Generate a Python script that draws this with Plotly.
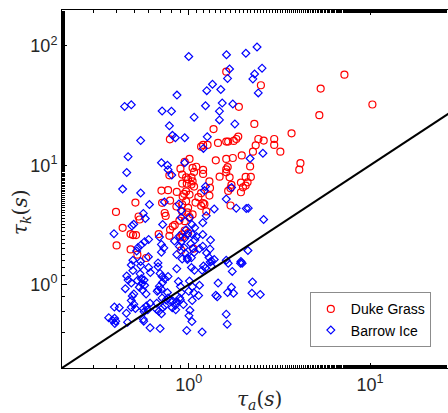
import math
import plotly.graph_objects as go

# ---------------- data ----------------
duke_tau_a = [7.22, 5.34, 10.3, 5.25, 3.69, 2.96, 2.96, 3.20, 4.13, 4.07,
              2.50, 1.61, 1.89, 2.30, 1.875, 1.83, 1.77, 1.65, 1.61, 2.42,
              2.59, 2.34, 2.26, 2.18, 1.96, 1.75, 1.61, 1.64, 1.61, 2.06,
              2.20, 2.11, 2.06, 1.94, 1.72, 1.70, 1.65, 1.70, 1.37, 1.45,
              1.27, 1.20, 1.17, 1.41, 1.01, 0.787, 0.950, 1.05, 1.10, 1.07,
              1.20, 1.20, 1.61, 1.48, 1.68, 1.94, 0.920, 0.967, 0.992, 1.035,
              1.05, 1.035, 1.07, 0.975, 0.920, 1.30, 1.31, 1.30, 1.17, 1.13,
              1.20, 1.17, 0.967, 0.943, 1.01, 0.926, 0.967, 0.920, 0.992, 0.920,
              0.983, 1.05, 1.01, 0.950, 0.950, 0.992, 0.926, 0.900, 0.782, 0.707,
              0.769, 0.859, 0.789, 0.508, 0.737, 0.746, 0.397, 0.529, 0.536, 0.837,
              0.789, 0.816, 0.888, 0.920, 0.432, 0.478, 0.493, 0.512, 0.683, 0.782,
              0.400, 0.478, 0.521, 0.582, 0.897, 0.909, 1.06, 0.713, 1.09, 1.22,
              1.25, 1.99, 0.855]
duke_tau_k = [57.4, 43.9, 32.3, 26.3, 18.5, 16.6, 14.8, 13.0, 10.4, 9.19,
              46.8, 60.9, 30.9, 22.2, 17.4, 16.6, 16.0, 15.8, 15.8, 16.6,
              16.1, 14.7, 13.0, 9.77, 12.1, 11.5, 11.3, 9.65, 8.73, 7.99,
              7.99, 7.20, 6.76, 5.94, 6.85, 6.41, 6.09, 4.60, 20.1, 15.4,
              14.8, 14.8, 14.3, 11.0, 11.3, 16.5, 10.7, 9.49, 9.72, 8.79,
              9.14, 8.46, 9.24, 8.03, 7.92, 7.16, 8.35, 7.92, 7.62, 7.92,
              7.34, 6.89, 6.63, 7.02, 7.02, 7.34, 6.46, 5.57, 5.83, 5.40,
              4.81, 4.57, 6.04, 5.76, 5.68, 5.47, 4.99, 4.69, 4.40, 4.08,
              4.03, 3.87, 3.67, 3.40, 2.84, 2.70, 2.50, 9.37, 8.24, 6.13,
              6.18, 5.98, 5.06, 4.87, 3.98, 3.76, 4.06, 3.72, 3.51, 3.16,
              2.88, 3.07, 3.44, 2.63, 2.99, 2.65, 2.60, 2.60, 2.65, 2.56,
              2.13, 1.97, 1.78, 1.67, 2.48, 1.94, 2.00, 4.84, 4.87, 4.72,
              4.10, 6.53, 4.51]

barrow_tau_a = [1.00, 0.443, 0.482, 0.713, 0.803, 0.861, 1.071, 1.352, 1.257, 1.502,
                1.237, 0.782, 0.813, 0.844, 0.950, 0.543, 1.265, 1.205, 0.463, 2.38,
                2.065, 1.615, 2.537, 1.679, 2.307, 2.258, 1.637, 2.418, 1.75, 1.796,
                2.564, 2.179, 1.53, 1.477, 1.477,
                0.707, 0.763, 0.769, 0.806, 0.455, 0.432, 0.543, 0.607, 0.734, 1.237,
                1.221, 1.722, 1.61, 1.828, 2.076, 2.13, 2.587, 2.12, 0.950, 1.382,
                1.248, 1.009, 0.909, 0.883, 0.909, 0.562, 0.576, 0.497, 0.486, 0.387,
                0.718, 1.041, 1.080, 1.195, 0.967, 0.983, 1.048, 1.103, 1.080, 0.950,
                0.909, 0.888, 1.195, 1.318, 1.31, 1.254, 1.293, 1.026, 1.052, 1.071,
                1.146, 1.195, 0.943, 0.958, 0.983, 0.601, 0.571, 0.546, 0.525, 0.516,
                0.689, 0.707, 0.729, 0.707, 0.834, 0.888, 0.859, 0.492, 0.543, 0.599,
                0.677, 1.61, 1.94, 0.920, 0.983, 1.035, 1.336, 1.382,
                0.482, 0.492, 0.543, 0.677, 0.455, 0.463, 0.482, 0.447, 0.539, 0.548,
                0.567, 0.521, 0.552, 0.534, 0.601, 0.614, 0.571, 0.556, 0.582, 0.695,
                0.713, 0.737, 0.716, 0.689, 0.769, 0.677, 0.498, 0.488, 0.482, 0.498,
                0.508, 0.482, 0.453, 0.389, 0.414, 0.362, 0.379, 0.390, 0.396, 0.391,
                0.460, 0.612, 0.584, 0.562, 0.594, 0.567, 0.562, 0.565, 0.612, 0.695,
                0.666, 0.663, 0.684, 0.707, 0.718, 0.739, 0.750, 0.816, 0.844, 0.811,
                0.848, 0.670, 0.707, 0.769, 0.763, 0.713, 0.877, 0.900, 0.892, 0.859,
                0.934, 0.859, 0.789, 1.009, 1.048, 1.00, 1.066, 1.146, 1.133, 0.909,
                0.900, 1.045, 1.035, 1.075, 1.185, 1.237, 1.205, 1.313, 1.330, 1.651,
                1.738, 1.93, 1.97, 1.452, 1.72, 1.637, 1.766, 2.247, 2.23, 2.48,
                1.41, 1.436, 1.015, 1.003, 1.041, 1.61, 1.63, 0.975, 1.185]
barrow_tau_k = [81.5, 31.1, 32.1, 28.5, 28.3, 38.7, 25.3, 47.7, 42.2, 43.1,
                31.5, 21.4, 17.8, 17.0, 17.0, 16.1, 17.3, 13.85, 11.8, 97.9,
                86.8, 84.4, 65.1, 64.1, 58.2, 52.9, 53.4, 40.4, 32.6, 22.2,
                12.6, 11.4, 33.2, 28.4, 24.0,
                10.5, 10.0, 9.19, 8.27, 8.68, 6.31, 5.85, 4.69, 4.93, 6.63,
                6.13, 6.50, 5.21, 4.37, 4.35, 4.37, 3.51, 1.93, 10.5, 4.30,
                3.77, 3.64, 3.65, 4.74, 4.18, 3.95, 3.58, 3.20, 3.10, 2.67,
                3.19, 3.19, 3.00, 3.30, 2.88, 2.63, 2.63, 2.53, 2.36, 2.44,
                2.29, 2.55, 2.63, 2.36, 1.99, 1.84, 1.69, 2.20, 2.01, 1.86,
                2.00, 2.10, 2.04, 1.83, 1.67, 2.39, 2.29, 2.15, 2.05, 1.91,
                2.50, 2.17, 2.03, 1.87, 2.32, 2.09, 1.79, 1.60, 1.56, 1.71,
                1.52, 1.60, 1.56, 1.64, 1.62, 1.68, 1.58, 1.62,
                1.46, 1.31, 1.44, 1.41, 1.18, 1.09, 1.03, 0.925, 1.23, 1.12,
                1.09, 1.08, 1.02, 0.95, 1.39, 1.26, 0.987, 0.90, 0.835, 1.24,
                1.17, 1.12, 1.04, 0.97, 1.17, 0.90, 0.835, 0.803, 0.735, 0.685,
                0.630, 0.646, 0.576, 0.648, 0.641, 0.528, 0.503, 0.522, 0.494, 0.471,
                0.484, 0.698, 0.660, 0.628, 0.614, 0.591, 0.513, 0.494, 0.434, 0.428,
                0.699, 0.622, 0.598, 0.570, 0.641, 0.666, 0.742, 0.727, 0.672, 0.641,
                0.616, 0.878, 0.913, 0.773, 0.858, 0.773, 1.06, 0.962, 0.773, 0.720,
                0.680, 1.36, 0.735, 1.07, 0.958, 0.878, 0.855, 0.987, 0.809, 0.858,
                0.744, 0.735, 1.39, 1.32, 1.32, 1.38, 1.43, 1.55, 1.43, 1.51,
                1.29, 1.51, 1.51, 1.03, 0.95, 0.858, 0.846, 1.05, 0.846, 0.825,
                0.814, 0.79, 0.61, 0.549, 0.49, 0.565, 0.466, 0.413, 0.40]

ref_line = [0.1, 100.0]          # one-to-one line tau_k = tau_a
x_range = [0.2, 26.9]
y_range = [0.2, 200.0]
x_ticks = [1, 10]
x_ticktext = ["10<sup>0</sup>", "10<sup>1</sup>"]
y_ticks = [1, 10, 100]
y_ticktext = ["10<sup>0</sup>", "10<sup>1</sup>", "10<sup>2</sup>"]

# ---------------- figure ----------------
fig = go.Figure()
fig.add_trace(go.Scatter(
    x=duke_tau_a, y=duke_tau_k, mode="markers", name="Duke Grass",
    marker=dict(symbol="circle-open", size=7, color="#ff0000",
                line=dict(width=1.2, color="#ff0000"))))
fig.add_trace(go.Scatter(
    x=barrow_tau_a, y=barrow_tau_k, mode="markers", name="Barrow Ice",
    marker=dict(symbol="diamond-open", size=6, color="#0000ff",
                line=dict(width=1.2, color="#0000ff"))))
fig.add_trace(go.Scatter(
    x=ref_line, y=ref_line, mode="lines", showlegend=False,
    line=dict(color="black", width=2)))

tickfont = dict(family="Liberation Sans, Arial, sans-serif", size=18, color="#262626")
axis_common = dict(
    type="log", showgrid=False, zeroline=False, showline=True,
    linecolor="black", linewidth=1, ticks="inside", ticklen=5,
    tickcolor="black", tickwidth=1, tickfont=tickfont,
    minor=dict(ticks="inside", ticklen=3, tickcolor="black", tickwidth=1,
               showgrid=False),
)

fig.update_layout(
    width=448, height=413,
    margin=dict(l=62, r=0, t=10, b=45),
    paper_bgcolor="white", plot_bgcolor="white",
    xaxis=dict(axis_common, range=[math.log10(x_range[0]), math.log10(x_range[1])],
               tickvals=x_ticks, ticktext=x_ticktext, mirror="ticks"),
    yaxis=dict(axis_common, range=[math.log10(y_range[0]), math.log10(y_range[1])],
               tickvals=y_ticks, ticktext=y_ticktext, mirror=False),
    legend=dict(x=0.642, y=0.2115, xanchor="left", yanchor="top",
                bgcolor="white", bordercolor="#8c8c8c", borderwidth=1,
                font=dict(family="Liberation Sans, Arial, sans-serif", size=14,
                          color="black"),
                itemsizing="trace"),
    showlegend=True,
    annotations=[
        dict(text="<i>τ<sub>a</sub></i>(<i>s</i>)", xref="paper", yref="paper",
             x=0.5104, y=-0.0894, xanchor="center", yanchor="middle",
             showarrow=False,
             font=dict(family="DejaVu Serif, serif", size=20, color="#262626")),
        dict(text="<i>τ<sub>k</sub></i>(<i>s</i>)", xref="paper", yref="paper",
             x=-0.1062, y=0.433, xanchor="center", yanchor="middle",
             textangle=-90, showarrow=False,
             font=dict(family="DejaVu Serif, serif", size=20, color="#262626")),
    ],
)

fig.write_html("out.html")
